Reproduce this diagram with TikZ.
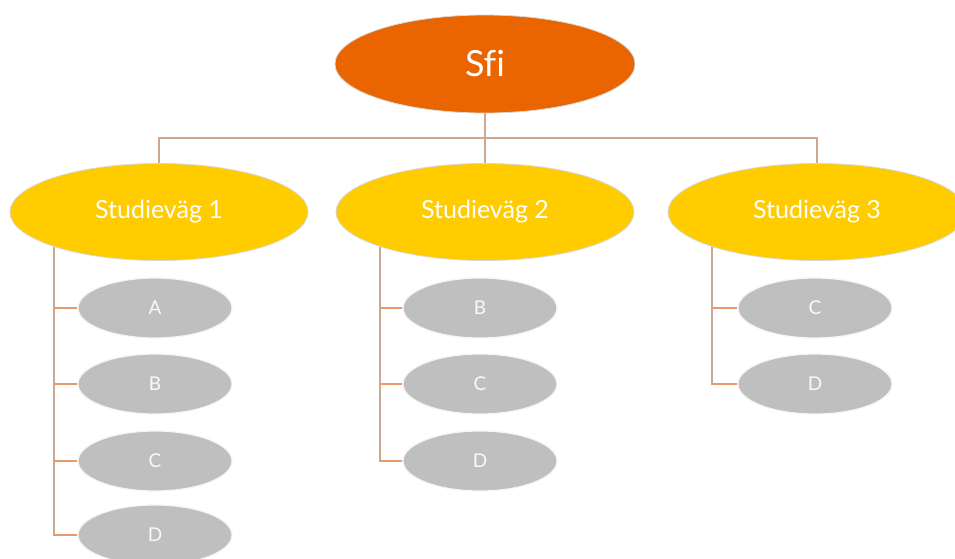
\documentclass[tikz,border=0pt]{standalone}
\usepackage{fontspec}
\setmainfont{Lato}[Ligatures=CommonOff]
\usetikzlibrary{shapes.geometric,backgrounds}
\definecolor{sfiorange}{RGB}{234,100,0}
\definecolor{pathyellow}{RGB}{255,204,0}
\definecolor{levelgray}{RGB}{191,191,191}
\definecolor{trunk}{RGB}{205,168,145}
\definecolor{stub}{RGB}{232,155,105}
\definecolor{rimgray}{RGB}{215,215,215}
\tikzset{
  rootnode/.style={ellipse, fill=sfiorange, draw=rimgray, line width=0.8pt, inner sep=0pt,
    minimum width=300pt, minimum height=98pt, text=white, font=\fontsize{36}{40}\selectfont},
  pathnode/.style={ellipse, fill=pathyellow, draw=rimgray, line width=0.8pt, inner sep=0pt,
    minimum width=298pt, minimum height=97pt, text=white, font=\fontsize{25}{30}\selectfont},
  levelnode/.style={ellipse, fill=levelgray, draw=white!92!gray, line width=1.2pt, inner sep=0pt,
    minimum width=154pt, minimum height=60pt, text=white!95!gray, font=\fontsize{19}{22}\selectfont},
  busline/.style={draw=trunk, line width=1.4pt},
  stubline/.style={draw=stub, line width=1.6pt},
}
\begin{document}
\begin{tikzpicture}[x=1pt,y=-1pt]
\useasboundingbox (0,0) rectangle (955,558);
\clip (0,0) rectangle (955,558);
\node[rootnode] (sfi) at (485,64) {Sfi};
\node[pathnode] (s1) at (159,212) {Studieväg 1};
\node[pathnode] (s2) at (485,212) {Studieväg 2};
\node[pathnode] (s3) at (817,212) {Studieväg 3};
\node[levelnode] (a1) at (155,308) {A};
\node[levelnode] (b1) at (155,384) {B};
\node[levelnode] (c1) at (155,461) {C};
\node[levelnode] (d1) at (155,535) {D};
\node[levelnode] (b2) at (480,308) {B};
\node[levelnode] (c2) at (480,384) {C};
\node[levelnode] (d2) at (480,461) {D};
\node[levelnode] (c3) at (815,308) {C};
\node[levelnode] (d3) at (815,384) {D};
\coordinate (t1) at ([xshift=-105pt]s1.center);
\coordinate (t2) at ([xshift=-105pt]s2.center);
\coordinate (t3) at ([xshift=-105pt]s3.center);
\begin{scope}[on background layer]
  \fill[white] (0,0) rectangle (955,558);
  \draw[busline] (sfi) -- (s2);
  \draw[busline] (s1.north) -- ++(0,-25) -| (s3.north);
  \draw[busline] (t1) |- (d1.west);
  \draw[busline] (t2) |- (d2.west);
  \draw[busline] (t3) |- (d3.west);
  \foreach \t/\c in {t1/a1,t1/b1,t1/c1,t1/d1,t2/b2,t2/c2,t2/d2,t3/c3,t3/d3}{
    \draw[stubline] (\t |- \c.west) -- (\c.west);
  }
\end{scope}
\end{tikzpicture}
\end{document}
